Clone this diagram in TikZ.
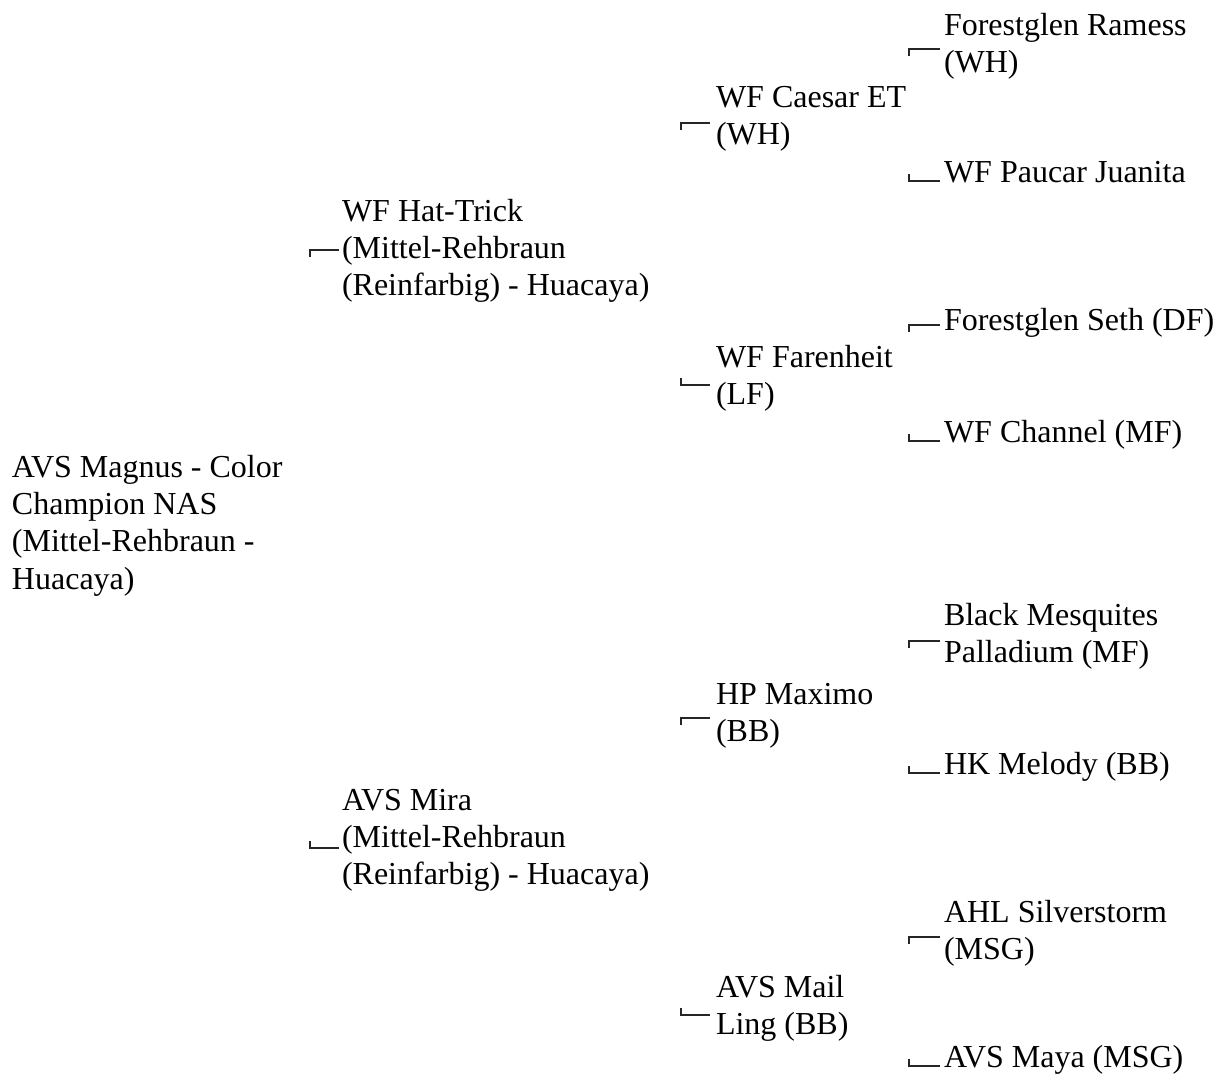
\documentclass[tikz,border=0pt]{standalone}
\usepackage{fontspec}
\setmainfont{LiberationSerif}[Extension=.ttf,UprightFont=*-Regular,BoldFont=*-Bold,ItalicFont=*-Italic,BoldItalicFont=*-BoldItalic]
\newcommand{\stk}[1]{\begin{tabular}[t]{@{}l@{}}#1\end{tabular}}
\begin{document}
\begin{tikzpicture}[x=0.75pt,y=-0.75pt,
  lbl/.style={anchor=base west,inner sep=0pt,outer sep=0pt,font=\rmfamily\fontsize{24}{28.1}\selectfont},
  brk/.style={line width=1.6pt,draw=black!85}]
\useasboundingbox (0,0) rectangle (1225,1075);
% generation 0
\node[lbl] (root) at (12,477) {\stk{AVS Magnus - Color\\Champion NAS\\(Mittel-Rehbraun -\\Huacaya)}};
% generation 1
\node[lbl] (s) at (342,221) {\stk{WF Hat-Trick\\(Mittel-Rehbraun\\(Reinfarbig) - Huacaya)}};
\node[lbl] (d) at (342,810) {\stk{AVS Mira\\(Mittel-Rehbraun\\(Reinfarbig) - Huacaya)}};
% generation 2
\node[lbl] (ss) at (716,107) {\stk{WF Caesar ET\\(WH)}};
\node[lbl] (sd) at (716,367) {\stk{WF Farenheit\\(LF)}};
\node[lbl] (ds) at (716,704) {\stk{HP Maximo\\(BB)}};
\node[lbl] (dd) at (716,997) {\stk{AVS Mail\\Ling (BB)}};
% generation 3
\node[lbl] (sss) at (944,35) {\stk{Forestglen Ramess\\(WH)}};
\node[lbl] (ssd) at (944,182) {WF Paucar Juanita};
\node[lbl] (sds) at (944,330) {Forestglen Seth (DF)};
\node[lbl] (sdd) at (944,442) {WF Channel (MF)};
\node[lbl] (dss) at (944,625) {\stk{Black Mesquites\\Palladium (MF)}};
\node[lbl] (dsd) at (944,774) {HK Melody (BB)};
\node[lbl] (dds) at (944,922) {\stk{AHL Silverstorm\\(MSG)}};
\node[lbl] (ddd) at (944,1067) {AVS Maya (MSG)};
% bracket marks
\newcommand{\brtop}[3]{\draw[brk] (#1,#3+7) -- (#1,#3) -- (#2,#3);}
\newcommand{\brbot}[3]{\draw[brk] (#1,#3-7) -- (#1,#3) -- (#2,#3);}
\brtop{310}{339}{250}
\brbot{310}{339}{848}
\brtop{681}{710}{123}
\brbot{681}{710}{385}
\brtop{681}{710}{718}
\brbot{681}{710}{1015}
\brtop{909}{940}{49}
\brbot{909}{940}{181}
\brtop{909}{940}{325}
\brbot{909}{940}{441}
\brtop{909}{940}{641}
\brbot{909}{940}{773}
\brtop{909}{940}{937}
\brbot{909}{940}{1066}
\end{tikzpicture}
\end{document}
